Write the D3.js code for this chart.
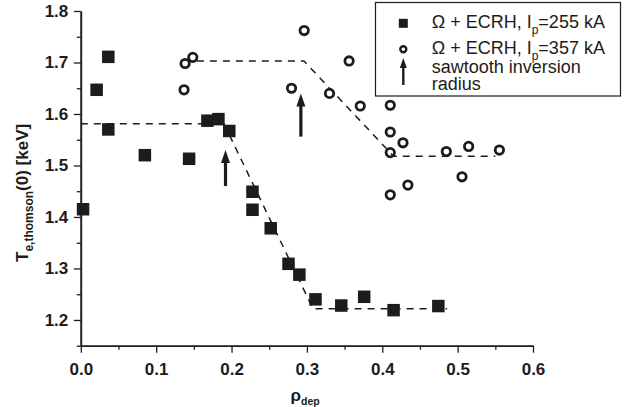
<!DOCTYPE html>
<html>
<head>
<meta charset="utf-8">
<script src="https://cdn.jsdelivr.net/npm/d3@7"></script>
<style>
  html, body { margin: 0; padding: 0; background: #fff; }
  svg { display: block; font-family: "Liberation Sans", Arial, Helvetica, sans-serif; }
</style>
</head>
<body>
<svg id="chart" width="627" height="407"></svg>
<script>
// ---- data ----
const sqX = [0.003, 0.021, 0.0365, 0.0365, 0.085, 0.1437, 0.168, 0.1826, 0.197, 0.2278, 0.2278, 0.252, 0.2756, 0.290, 0.3114, 0.3456, 0.376, 0.415, 0.4744];
const sqY = [1.415, 1.647, 1.711, 1.570, 1.520, 1.513, 1.587, 1.590, 1.567, 1.449, 1.414, 1.378, 1.309, 1.288, 1.240, 1.228, 1.245, 1.219, 1.227];

const ciX = [0.1384, 0.1486, 0.137, 0.2964, 0.2796, 0.330, 0.356, 0.3708, 0.4106, 0.4106, 0.4275, 0.4106, 0.485, 0.5146, 0.5554, 0.5058, 0.434, 0.4106];
const ciY = [1.698, 1.710, 1.647, 1.762, 1.650, 1.640, 1.703, 1.6155, 1.617, 1.565, 1.544, 1.525, 1.527, 1.537, 1.530, 1.478, 1.462, 1.443];

const fit1X = [0.0, 0.19, 0.308, 0.486];
const fit1Y = [1.581, 1.581, 1.222, 1.222];
const fit2X = [0.154, 0.296, 0.415, 0.55];
const fit2Y = [1.703, 1.703, 1.518, 1.518];

const arrowX = [0.192, 0.292];
const arrowTip = [1.530, 1.640];
const arrowTail = [1.460, 1.556];

const xTicks = [0, 0.1, 0.2, 0.3, 0.4, 0.5, 0.6];
const xMinor = [0.05, 0.15, 0.25, 0.35, 0.45, 0.55];
const yTicks = [1.2, 1.3, 1.4, 1.5, 1.6, 1.7, 1.8];
const yMinor = [1.15, 1.25, 1.35, 1.45, 1.55, 1.65, 1.75];

const legendLabels = ["=255 kA", "=357 kA"];

// ---- chart ----
const ink = "#1c1c1c";
const svg = d3.select("#chart");
const x = d3.scaleLinear().domain([0, 0.6]).range([80.8, 533]);
const y = d3.scaleLinear().domain([1.15, 1.8]).range([345.7, 11]);
const x0 = x(0), yb = y(1.15);

// axes
const xMinorAxis = d3.axisBottom(x).tickValues(xMinor).tickSize(4).tickSizeOuter(0).tickFormat("");
const xAxis = d3.axisBottom(x).tickValues(xTicks).tickSize(7).tickSizeOuter(0).tickPadding(10).tickFormat(d3.format(".1f"));
const yMinorAxis = d3.axisLeft(y).tickValues(yMinor).tickSize(4).tickSizeOuter(0).tickFormat("");
const yAxis = d3.axisLeft(y).tickValues(yTicks).tickSize(7).tickSizeOuter(0).tickPadding(5.5).tickFormat(d3.format(".1f"));

function styleAxis(g) {
  g.select(".domain").attr("stroke", ink).attr("stroke-width", 1.6);
  g.selectAll(".tick line").attr("stroke", ink).attr("stroke-width", 1.3);
  g.selectAll(".tick text").attr("fill", ink).attr("font-size", 17).attr("font-weight", "bold")
    .attr("font-family", '"Liberation Sans", Arial, sans-serif');
}
svg.append("g").attr("transform", `translate(0,${yb})`).call(xMinorAxis).call(styleAxis);
svg.append("g").attr("transform", `translate(0,${yb})`).call(xAxis).call(styleAxis);
svg.append("g").attr("transform", `translate(${x0},0)`).call(yMinorAxis).call(styleAxis);
svg.append("g").attr("transform", `translate(${x0},0)`).call(yAxis).call(styleAxis);

// axis titles
const xt = svg.append("text").attr("x", 290.5).attr("y", 401).attr("fill", ink)
  .attr("font-weight", "bold").attr("font-size", 17);
xt.append("tspan").text("ρ");
xt.append("tspan").attr("font-size", 10.5).attr("dy", 4).text("dep");

const yt = svg.append("text").attr("transform", "translate(28,262) rotate(-90)")
  .attr("fill", ink).attr("font-weight", "bold").attr("font-size", 17);
yt.append("tspan").text("T");
yt.append("tspan").attr("font-size", 12).attr("dy", 5).text("e,thomson");
yt.append("tspan").attr("dy", -5).text("(0) [keV]");

// dashed fit lines
const line = d3.line().x(d => x(d[0])).y(d => y(d[1]));
[[fit1X, fit1Y], [fit2X, fit2Y]].forEach(([xs, ys]) => {
  svg.append("path").datum(xs.map((v, i) => [v, ys[i]]))
    .attr("d", line).attr("fill", "none").attr("stroke", ink)
    .attr("stroke-width", 1.5).attr("stroke-dasharray", "7,6");
});

// squares
const sq = 12.5;
svg.append("g").selectAll("rect").data(sqX.map((v, i) => [v, sqY[i]])).join("rect")
  .attr("x", d => x(d[0]) - sq / 2).attr("y", d => y(d[1]) - sq / 2)
  .attr("width", sq).attr("height", sq).attr("fill", ink);

// circles
svg.append("g").selectAll("circle").data(ciX.map((v, i) => [v, ciY[i]])).join("circle")
  .attr("cx", d => x(d[0])).attr("cy", d => y(d[1])).attr("r", 4.2)
  .attr("fill", "none").attr("stroke", ink).attr("stroke-width", 2.8);

// arrows
function arrow(g, cx, tipY, tailY, shaft, headW, headL) {
  g.append("line").attr("x1", cx).attr("x2", cx).attr("y1", tailY).attr("y2", tipY + headL - 1)
    .attr("stroke", ink).attr("stroke-width", shaft);
  g.append("path").attr("d", `M${cx},${tipY} L${cx - headW / 2},${tipY + headL} L${cx + headW / 2},${tipY + headL} Z`)
    .attr("fill", ink);
}
arrowX.forEach((v, i) => arrow(svg, x(v), y(arrowTip[i]), y(arrowTail[i]), 3.2, 9, 13));

// legend
const lg = svg.append("g");
lg.append("rect").attr("x", 375.5).attr("y", 2.5).attr("width", 245).attr("height", 93.5)
  .attr("fill", "#fff").attr("stroke", ink).attr("stroke-width", 1.2);
lg.append("rect").attr("x", 403.3 - 4.5).attr("y", 23.3 - 4.5).attr("width", 9).attr("height", 9).attr("fill", ink);
lg.append("circle").attr("cx", 403.3).attr("cy", 49.3).attr("r", 3).attr("fill", "none")
  .attr("stroke", ink).attr("stroke-width", 2.4);
arrow(lg, 403.3, 58, 85, 2.4, 7, 10);

[28.3, 54].forEach((by, i) => {
  const t = lg.append("text").attr("x", 431.7).attr("y", by).attr("font-size", 18).attr("fill", ink);
  t.append("tspan").text("Ω + ECRH, I");
  t.append("tspan").attr("font-size", 12).attr("dy", 6).text("p");
  t.append("tspan").attr("dy", -6).text(legendLabels[i]);
});
lg.append("text").attr("x", 431.7).attr("y", 72.5).attr("font-size", 18).attr("fill", ink).text("sawtooth inversion");
lg.append("text").attr("x", 431.7).attr("y", 90).attr("font-size", 18).attr("fill", ink).text("radius");
</script>
</body>
</html>
